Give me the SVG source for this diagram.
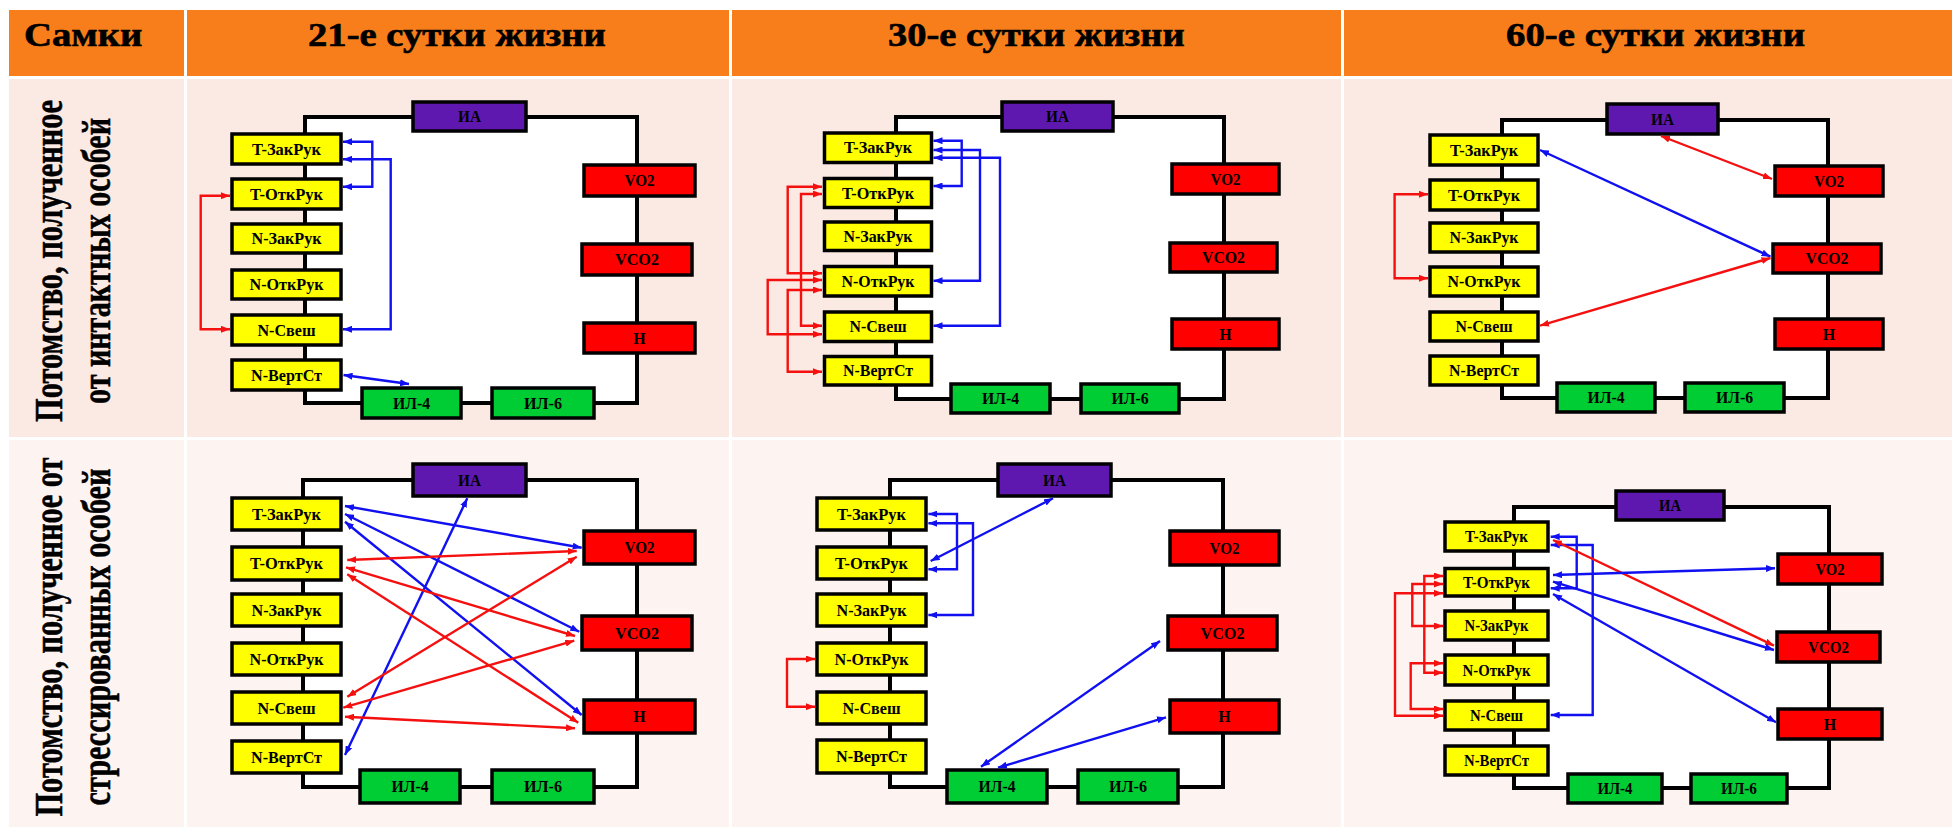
<svg xmlns="http://www.w3.org/2000/svg" width="1952" height="827" viewBox="0 0 1952 827">
<defs>
<style>
.hd{fill:#F87E1B}
.r1{fill:#FBEAE3}
.r2{fill:#FDF4F2}
.ht{font-family:"Liberation Serif","Times New Roman",serif;font-weight:bold;font-size:33px;fill:#000;stroke:#000;stroke-width:0.6}
.vt{font-family:"Liberation Serif","Times New Roman",serif;font-weight:bold;font-size:30px;fill:#000;text-anchor:middle;stroke:#000;stroke-width:0.4}
.loop{fill:#fff;stroke:#000;stroke-width:4}
.y{fill:#FFFF00;stroke:#000;stroke-width:3.5}
.rd{fill:#FF0000;stroke:#000;stroke-width:3.5}
.gr{fill:#00CC33;stroke:#000;stroke-width:3.5}
.pu{fill:#5E18B0;stroke:#000;stroke-width:3.5}
.l{font-family:"Liberation Serif","Times New Roman",serif;font-weight:bold;font-size:16px;fill:#000;text-anchor:middle}
.cb{fill:none;stroke:#1010F0;stroke-width:2.4;marker-start:url(#ab);marker-end:url(#ab)}
.cr{fill:none;stroke:#F51010;stroke-width:2.4;marker-start:url(#ar);marker-end:url(#ar)}
</style>
<marker id="ab" viewBox="0 0 9 7" refX="9" refY="3.5" markerWidth="9" markerHeight="7" markerUnits="userSpaceOnUse" orient="auto-start-reverse"><path d="M0,0 L9,3.5 L0,7 z" fill="#1010F0"/></marker>
<marker id="ar" viewBox="0 0 9 7" refX="9" refY="3.5" markerWidth="9" markerHeight="7" markerUnits="userSpaceOnUse" orient="auto-start-reverse"><path d="M0,0 L9,3.5 L0,7 z" fill="#F51010"/></marker>
</defs>
<rect x="0" y="0" width="1952" height="827" fill="#fff"/>
<g id="table">
<rect class="hd" x="9" y="10" width="175" height="66"/>
<rect class="hd" x="187" y="10" width="542" height="66"/>
<rect class="hd" x="732" y="10" width="609" height="66"/>
<rect class="hd" x="1344" y="10" width="608" height="66"/>
<rect class="r1" x="9" y="79" width="175" height="358"/>
<rect class="r1" x="187" y="79" width="542" height="358"/>
<rect class="r1" x="732" y="79" width="609" height="358"/>
<rect class="r1" x="1344" y="79" width="608" height="358"/>
<rect class="r2" x="9" y="440" width="175" height="387"/>
<rect class="r2" x="187" y="440" width="542" height="387"/>
<rect class="r2" x="732" y="440" width="609" height="387"/>
<rect class="r2" x="1344" y="440" width="608" height="387"/>
<text class="ht" transform="translate(24,46) scale(1.15,1)" textLength="103" lengthAdjust="spacingAndGlyphs">Самки</text>
<text class="ht" transform="translate(308,46) scale(1.15,1)" textLength="259" lengthAdjust="spacingAndGlyphs">21-е сутки жизни</text>
<text class="ht" transform="translate(888,46) scale(1.15,1)" textLength="258" lengthAdjust="spacingAndGlyphs">30-е сутки жизни</text>
<text class="ht" transform="translate(1506,46) scale(1.15,1)" textLength="260" lengthAdjust="spacingAndGlyphs">60-е сутки жизни</text>
<g transform="translate(0,261) scale(1.3,1) rotate(-90)">
<text class="vt" x="0" y="47.7" textLength="322" lengthAdjust="spacingAndGlyphs">Потомство, полученное</text>
<text class="vt" x="0" y="84.6" textLength="286" lengthAdjust="spacingAndGlyphs">от интактных особей</text>
</g>
<g transform="translate(0,637) scale(1.3,1) rotate(-90)">
<text class="vt" x="0" y="47.7" textLength="359" lengthAdjust="spacingAndGlyphs">Потомство, полученное от</text>
<text class="vt" x="0" y="84.6" textLength="337" lengthAdjust="spacingAndGlyphs">стрессированных особей</text>
</g>
</g>

<!-- Panel A: row 1, 21 days -->
<g id="A-loop"><rect class="loop" x="305" y="117" width="332" height="286"/></g>
<g id="A-IA"><rect class="pu" x="413" y="102" width="113" height="29"/><text class="l" x="469.5" y="122" textLength="23" lengthAdjust="spacingAndGlyphs">ИА</text></g>
<g id="A-TZak"><rect class="y" x="232" y="134" width="109" height="30"/><text class="l" x="286.5" y="154.5" textLength="69" lengthAdjust="spacingAndGlyphs">T-ЗакРук</text></g>
<g id="A-TOtk"><rect class="y" x="232" y="179" width="109" height="30"/><text class="l" x="286.5" y="199.5" textLength="73" lengthAdjust="spacingAndGlyphs">T-ОткРук</text></g>
<g id="A-NZak"><rect class="y" x="232" y="224" width="109" height="29"/><text class="l" x="286.5" y="244" textLength="70" lengthAdjust="spacingAndGlyphs">N-ЗакРук</text></g>
<g id="A-NOtk"><rect class="y" x="232" y="270" width="109" height="29"/><text class="l" x="286.5" y="290" textLength="74" lengthAdjust="spacingAndGlyphs">N-ОткРук</text></g>
<g id="A-NSv"><rect class="y" x="232" y="315" width="109" height="30"/><text class="l" x="286.5" y="335.5" textLength="58" lengthAdjust="spacingAndGlyphs">N-Свеш</text></g>
<g id="A-NVert"><rect class="y" x="232" y="360" width="109" height="30"/><text class="l" x="286.5" y="380.5" textLength="71" lengthAdjust="spacingAndGlyphs">N-ВертСт</text></g>
<g id="A-VO2"><rect class="rd" x="584" y="165" width="111" height="31"/><text class="l" x="639.5" y="186" textLength="30" lengthAdjust="spacingAndGlyphs">VO2</text></g>
<g id="A-VCO2"><rect class="rd" x="582" y="244" width="110" height="31"/><text class="l" x="637" y="265" textLength="44" lengthAdjust="spacingAndGlyphs">VCO2</text></g>
<g id="A-H"><rect class="rd" x="584" y="323" width="111" height="30"/><text class="l" x="639.5" y="343.5">H</text></g>
<g id="A-IL4"><rect class="gr" x="362" y="388" width="99" height="30"/><text class="l" x="411.5" y="408.5" textLength="37" lengthAdjust="spacingAndGlyphs">ИЛ-4</text></g>
<g id="A-IL6"><rect class="gr" x="492" y="388" width="102" height="30"/><text class="l" x="543" y="408.5" textLength="38" lengthAdjust="spacingAndGlyphs">ИЛ-6</text></g>

<!-- Panel B: row 1, 30 days -->
<g id="B-loop"><rect class="loop" x="896" y="117" width="328" height="282"/></g>
<g id="B-IA"><rect class="pu" x="1002" y="102" width="111" height="29"/><text class="l" x="1057.5" y="122" textLength="23" lengthAdjust="spacingAndGlyphs">ИА</text></g>
<g id="B-TZak"><rect class="y" x="824.5" y="133" width="107" height="29.5"/><text class="l" x="878" y="153.3" textLength="68" lengthAdjust="spacingAndGlyphs">T-ЗакРук</text></g>
<g id="B-TOtk"><rect class="y" x="824.5" y="178.5" width="107" height="29"/><text class="l" x="878" y="198.5" textLength="72" lengthAdjust="spacingAndGlyphs">T-ОткРук</text></g>
<g id="B-NZak"><rect class="y" x="824.5" y="222" width="107" height="28.5"/><text class="l" x="878" y="241.8" textLength="69" lengthAdjust="spacingAndGlyphs">N-ЗакРук</text></g>
<g id="B-NOtk"><rect class="y" x="824.5" y="266.5" width="107" height="29.5"/><text class="l" x="878" y="286.8" textLength="73" lengthAdjust="spacingAndGlyphs">N-ОткРук</text></g>
<g id="B-NSv"><rect class="y" x="824.5" y="312" width="107" height="29.5"/><text class="l" x="878" y="332.3" textLength="57" lengthAdjust="spacingAndGlyphs">N-Свеш</text></g>
<g id="B-NVert"><rect class="y" x="824.5" y="356.5" width="107" height="28.5"/><text class="l" x="878" y="376.3" textLength="70" lengthAdjust="spacingAndGlyphs">N-ВертСт</text></g>
<g id="B-VO2"><rect class="rd" x="1172" y="164" width="107" height="30"/><text class="l" x="1225.5" y="184.5" textLength="30" lengthAdjust="spacingAndGlyphs">VO2</text></g>
<g id="B-VCO2"><rect class="rd" x="1170" y="243" width="107" height="29"/><text class="l" x="1223.5" y="263" textLength="43" lengthAdjust="spacingAndGlyphs">VCO2</text></g>
<g id="B-H"><rect class="rd" x="1172" y="319" width="107" height="30"/><text class="l" x="1225.5" y="339.5">H</text></g>
<g id="B-IL4"><rect class="gr" x="951" y="384" width="99" height="29"/><text class="l" x="1000.5" y="404" textLength="37" lengthAdjust="spacingAndGlyphs">ИЛ-4</text></g>
<g id="B-IL6"><rect class="gr" x="1081" y="384" width="98" height="29"/><text class="l" x="1130" y="404" textLength="37" lengthAdjust="spacingAndGlyphs">ИЛ-6</text></g>

<!-- Panel C: row 1, 60 days -->
<g id="C-loop"><rect class="loop" x="1502" y="120" width="326" height="278"/></g>
<g id="C-IA"><rect class="pu" x="1607" y="104" width="111" height="30"/><text class="l" x="1662.5" y="124.5" textLength="23" lengthAdjust="spacingAndGlyphs">ИА</text></g>
<g id="C-TZak"><rect class="y" x="1430" y="135" width="108" height="30"/><text class="l" x="1484" y="155.5" textLength="68" lengthAdjust="spacingAndGlyphs">T-ЗакРук</text></g>
<g id="C-TOtk"><rect class="y" x="1430" y="180" width="108" height="30"/><text class="l" x="1484" y="200.5" textLength="72" lengthAdjust="spacingAndGlyphs">T-ОткРук</text></g>
<g id="C-NZak"><rect class="y" x="1430" y="223" width="108" height="29"/><text class="l" x="1484" y="243" textLength="69" lengthAdjust="spacingAndGlyphs">N-ЗакРук</text></g>
<g id="C-NOtk"><rect class="y" x="1430" y="267" width="108" height="29"/><text class="l" x="1484" y="287" textLength="73" lengthAdjust="spacingAndGlyphs">N-ОткРук</text></g>
<g id="C-NSv"><rect class="y" x="1430" y="312" width="108" height="29"/><text class="l" x="1484" y="332" textLength="57" lengthAdjust="spacingAndGlyphs">N-Свеш</text></g>
<g id="C-NVert"><rect class="y" x="1430" y="356" width="108" height="29"/><text class="l" x="1484" y="376" textLength="70" lengthAdjust="spacingAndGlyphs">N-ВертСт</text></g>
<g id="C-VO2"><rect class="rd" x="1775" y="166" width="108" height="30"/><text class="l" x="1829" y="186.5" textLength="30" lengthAdjust="spacingAndGlyphs">VO2</text></g>
<g id="C-VCO2"><rect class="rd" x="1773" y="244" width="108" height="29"/><text class="l" x="1827" y="264" textLength="43" lengthAdjust="spacingAndGlyphs">VCO2</text></g>
<g id="C-H"><rect class="rd" x="1775" y="319" width="108" height="30"/><text class="l" x="1829" y="339.5">H</text></g>
<g id="C-IL4"><rect class="gr" x="1557" y="383" width="98" height="29"/><text class="l" x="1606" y="403" textLength="37" lengthAdjust="spacingAndGlyphs">ИЛ-4</text></g>
<g id="C-IL6"><rect class="gr" x="1685" y="383" width="99" height="29"/><text class="l" x="1734.5" y="403" textLength="37" lengthAdjust="spacingAndGlyphs">ИЛ-6</text></g>

<!-- Panel D: row 2, 21 days -->
<g id="D-loop"><rect class="loop" x="303" y="480" width="334" height="307"/></g>
<g id="D-IA"><rect class="pu" x="413" y="464" width="113" height="32"/><text class="l" x="469.5" y="485.5" textLength="23" lengthAdjust="spacingAndGlyphs">ИА</text></g>
<g id="D-TZak"><rect class="y" x="232" y="498" width="109" height="32"/><text class="l" x="286.5" y="519.5" textLength="69" lengthAdjust="spacingAndGlyphs">T-ЗакРук</text></g>
<g id="D-TOtk"><rect class="y" x="232" y="547" width="109" height="33"/><text class="l" x="286.5" y="569" textLength="73" lengthAdjust="spacingAndGlyphs">T-ОткРук</text></g>
<g id="D-NZak"><rect class="y" x="232" y="594" width="109" height="32"/><text class="l" x="286.5" y="615.5" textLength="70" lengthAdjust="spacingAndGlyphs">N-ЗакРук</text></g>
<g id="D-NOtk"><rect class="y" x="232" y="643" width="109" height="32"/><text class="l" x="286.5" y="664.5" textLength="74" lengthAdjust="spacingAndGlyphs">N-ОткРук</text></g>
<g id="D-NSv"><rect class="y" x="232" y="692" width="109" height="32"/><text class="l" x="286.5" y="713.5" textLength="58" lengthAdjust="spacingAndGlyphs">N-Свеш</text></g>
<g id="D-NVert"><rect class="y" x="232" y="741" width="109" height="32"/><text class="l" x="286.5" y="762.5" textLength="71" lengthAdjust="spacingAndGlyphs">N-ВертСт</text></g>
<g id="D-VO2"><rect class="rd" x="584" y="531" width="111" height="33"/><text class="l" x="639.5" y="553" textLength="30" lengthAdjust="spacingAndGlyphs">VO2</text></g>
<g id="D-VCO2"><rect class="rd" x="582" y="616" width="110" height="34"/><text class="l" x="637" y="638.5" textLength="44" lengthAdjust="spacingAndGlyphs">VCO2</text></g>
<g id="D-H"><rect class="rd" x="584" y="700" width="111" height="33"/><text class="l" x="639.5" y="722">H</text></g>
<g id="D-IL4"><rect class="gr" x="360" y="770" width="100" height="33"/><text class="l" x="410" y="792" textLength="37" lengthAdjust="spacingAndGlyphs">ИЛ-4</text></g>
<g id="D-IL6"><rect class="gr" x="492" y="770" width="102" height="33"/><text class="l" x="543" y="792" textLength="38" lengthAdjust="spacingAndGlyphs">ИЛ-6</text></g>

<!-- Panel E: row 2, 30 days -->
<g id="E-loop"><rect class="loop" x="890" y="480" width="333" height="307"/></g>
<g id="E-IA"><rect class="pu" x="998" y="464" width="113" height="32"/><text class="l" x="1054.5" y="485.5" textLength="23" lengthAdjust="spacingAndGlyphs">ИА</text></g>
<g id="E-TZak"><rect class="y" x="817" y="498" width="109" height="32"/><text class="l" x="871.5" y="519.5" textLength="69" lengthAdjust="spacingAndGlyphs">T-ЗакРук</text></g>
<g id="E-TOtk"><rect class="y" x="817" y="547" width="109" height="32"/><text class="l" x="871.5" y="568.5" textLength="73" lengthAdjust="spacingAndGlyphs">T-ОткРук</text></g>
<g id="E-NZak"><rect class="y" x="817" y="594" width="109" height="32"/><text class="l" x="871.5" y="615.5" textLength="70" lengthAdjust="spacingAndGlyphs">N-ЗакРук</text></g>
<g id="E-NOtk"><rect class="y" x="817" y="643" width="109" height="32"/><text class="l" x="871.5" y="664.5" textLength="74" lengthAdjust="spacingAndGlyphs">N-ОткРук</text></g>
<g id="E-NSv"><rect class="y" x="817" y="692" width="109" height="32"/><text class="l" x="871.5" y="713.5" textLength="58" lengthAdjust="spacingAndGlyphs">N-Свеш</text></g>
<g id="E-NVert"><rect class="y" x="817" y="740" width="109" height="33"/><text class="l" x="871.5" y="762" textLength="71" lengthAdjust="spacingAndGlyphs">N-ВертСт</text></g>
<g id="E-VO2"><rect class="rd" x="1170" y="531" width="109" height="34"/><text class="l" x="1224.5" y="553.5" textLength="30" lengthAdjust="spacingAndGlyphs">VO2</text></g>
<g id="E-VCO2"><rect class="rd" x="1168" y="616" width="109" height="34"/><text class="l" x="1222.5" y="638.5" textLength="44" lengthAdjust="spacingAndGlyphs">VCO2</text></g>
<g id="E-H"><rect class="rd" x="1170" y="700" width="109" height="33"/><text class="l" x="1224.5" y="722">H</text></g>
<g id="E-IL4"><rect class="gr" x="947" y="770" width="100" height="33"/><text class="l" x="997" y="792" textLength="37" lengthAdjust="spacingAndGlyphs">ИЛ-4</text></g>
<g id="E-IL6"><rect class="gr" x="1078" y="770" width="100" height="33"/><text class="l" x="1128" y="792" textLength="38" lengthAdjust="spacingAndGlyphs">ИЛ-6</text></g>

<!-- Panel F: row 2, 60 days -->
<g id="F-loop"><rect class="loop" x="1514" y="507" width="315" height="281"/></g>
<g id="F-IA"><rect class="pu" x="1616" y="491" width="108" height="29"/><text class="l" x="1670" y="511" textLength="22" lengthAdjust="spacingAndGlyphs">ИА</text></g>
<g id="F-TZak"><rect class="y" x="1445" y="522" width="103" height="29"/><text class="l" x="1496.5" y="542" textLength="63" lengthAdjust="spacingAndGlyphs">T-ЗакРук</text></g>
<g id="F-TOtk"><rect class="y" x="1445" y="568.5" width="103" height="27.5"/><text class="l" x="1496.5" y="587.8" textLength="67" lengthAdjust="spacingAndGlyphs">T-ОткРук</text></g>
<g id="F-NZak"><rect class="y" x="1445" y="611" width="103" height="29"/><text class="l" x="1496.5" y="631" textLength="64" lengthAdjust="spacingAndGlyphs">N-ЗакРук</text></g>
<g id="F-NOtk"><rect class="y" x="1445" y="655" width="103" height="30"/><text class="l" x="1496.5" y="675.5" textLength="68" lengthAdjust="spacingAndGlyphs">N-ОткРук</text></g>
<g id="F-NSv"><rect class="y" x="1445" y="701" width="103" height="29"/><text class="l" x="1496.5" y="721" textLength="53" lengthAdjust="spacingAndGlyphs">N-Свеш</text></g>
<g id="F-NVert"><rect class="y" x="1445" y="746" width="103" height="29"/><text class="l" x="1496.5" y="766" textLength="65" lengthAdjust="spacingAndGlyphs">N-ВертСт</text></g>
<g id="F-VO2"><rect class="rd" x="1778" y="554" width="104" height="30"/><text class="l" x="1830" y="574.5" textLength="29" lengthAdjust="spacingAndGlyphs">VO2</text></g>
<g id="F-VCO2"><rect class="rd" x="1777" y="632" width="103" height="30"/><text class="l" x="1828.5" y="652.5" textLength="41" lengthAdjust="spacingAndGlyphs">VCO2</text></g>
<g id="F-H"><rect class="rd" x="1778" y="709" width="104" height="30"/><text class="l" x="1830" y="729.5">H</text></g>
<g id="F-IL4"><rect class="gr" x="1568" y="774" width="94" height="29"/><text class="l" x="1615" y="794" textLength="35" lengthAdjust="spacingAndGlyphs">ИЛ-4</text></g>
<g id="F-IL6"><rect class="gr" x="1691" y="774" width="96" height="29"/><text class="l" x="1739" y="794" textLength="36" lengthAdjust="spacingAndGlyphs">ИЛ-6</text></g>

<g id="connectors">
<!-- A -->
<path class="cr" d="M230 195.7 H200.7 V329.3 H230"/>
<path class="cb" d="M343 141.7 H372.3 V186.7 H343"/>
<path class="cb" d="M343 159.3 H390.7 V329.3 H343"/>
<path class="cb" d="M343.5 375 L409 384"/>
<!-- B -->
<path class="cb" d="M933.5 140.7 H961.7 V186 H933.5"/>
<path class="cb" d="M933.5 150 H980 V280.7 H933.5"/>
<path class="cb" d="M933.5 157.7 H1000 V325.7 H933.5"/>
<path class="cr" d="M822 186.7 H787.7 V273.3 H822"/>
<path class="cr" d="M822 194 H801 V325.7 H822"/>
<path class="cr" d="M822 280 H767.7 V334.3 H822"/>
<path class="cr" d="M822 290 H787.7 V371.7 H822"/>
<!-- C -->
<path class="cr" d="M1428 194.3 H1394.6 V278.3 H1428"/>
<path class="cr" d="M1661 136 L1772 179"/>
<path class="cb" d="M1540 150 L1770.5 256.7"/>
<path class="cr" d="M1540 325.7 L1770.5 258"/>
<!-- D -->
<path class="cb" d="M345 506 L581.7 547.7"/>
<path class="cb" d="M345 514 L579.3 631.7"/>
<path class="cb" d="M345 521.7 L581.7 715"/>
<path class="cb" d="M467.3 498.3 L345 755"/>
<path class="cr" d="M347.3 560 L576.7 551"/>
<path class="cr" d="M346 567.3 L575 636"/>
<path class="cr" d="M347.3 574.3 L578.3 722.7"/>
<path class="cr" d="M347.3 696.7 L576.7 556.7"/>
<path class="cr" d="M343.3 707.7 L574.3 640.7"/>
<path class="cr" d="M345 716.7 L575 728.3"/>
<!-- E -->
<path class="cb" d="M928.4 514 H957 V569.3 H928.4"/>
<path class="cb" d="M928.4 523.3 H973 V615 H928.4"/>
<path class="cb" d="M930.7 561 L1053 498.3"/>
<path class="cr" d="M815 659 H787 V706.7 H815"/>
<path class="cb" d="M981 766.7 L1160 641"/>
<path class="cb" d="M998 767.7 L1166 717.3"/>
<!-- F -->
<path class="cb" d="M1550.7 536.7 H1576.7 V588.3 H1550.7"/>
<path class="cb" d="M1550.7 545 H1592.7 V715 H1550.7"/>
<path class="cr" d="M1553 540 L1774 645.7"/>
<path class="cb" d="M1553 575 L1775 568.3"/>
<path class="cb" d="M1553 581.7 L1774 650"/>
<path class="cb" d="M1553 594 L1776 722.3"/>
<path class="cr" d="M1443 576 H1424.3 V672.7 H1443"/>
<path class="cr" d="M1443 584 H1412.3 V626 H1443"/>
<path class="cr" d="M1443 593.3 H1395 V715.7 H1443"/>
<path class="cr" d="M1443 663.3 H1410.7 V709 H1443"/>
</g>
</svg>
